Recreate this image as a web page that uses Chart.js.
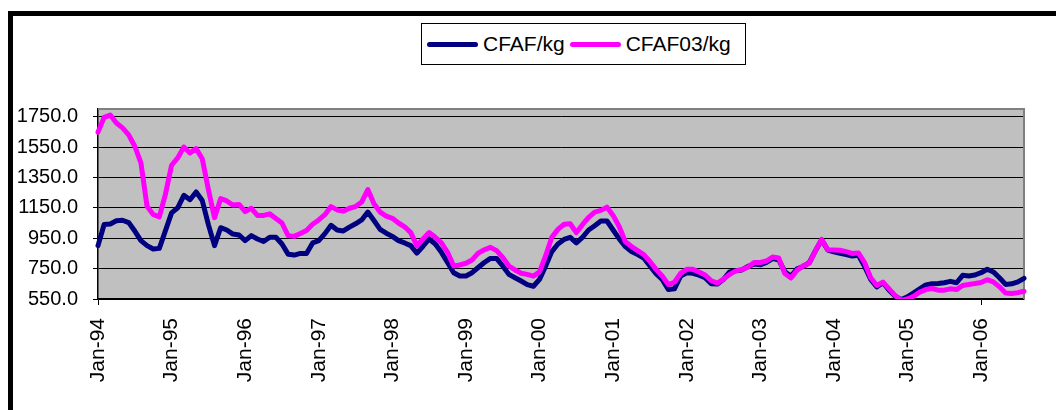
<!DOCTYPE html>
<html><head><meta charset="utf-8">
<script src="https://cdn.jsdelivr.net/npm/chart.js@4.4.1/dist/chart.umd.min.js"></script>
<style>
html,body{margin:0;padding:0;background:#fff;width:1056px;height:410px;overflow:hidden;}
#wrap{position:relative;width:1056px;height:410px;}
#frame{position:absolute;left:8px;top:11px;width:1060px;height:410px;border-top:5px solid #000;border-left:5px solid #000;}
#c{position:absolute;left:0;top:0;}
#legend{position:absolute;left:421px;top:23px;width:325px;height:42px;border:1px solid #000;background:#fff;
 font-family:"Liberation Sans",Arial,sans-serif;font-size:21px;color:#000;display:flex;align-items:center;box-sizing:border-box;padding-left:5px;}
#legend .sw{display:inline-block;width:51px;height:5px;border-radius:3px;margin-right:5px;}
#legend .tx{margin-right:5px;}
</style></head>
<body><div id="wrap"><div id="frame"></div><canvas id="c" width="1056" height="410"></canvas><div id="legend"></div></div>
<script>
const MONTHS=['Jan','Feb','Mar','Apr','May','Jun','Jul','Aug','Sep','Oct','Nov','Dec'];
const START_YEAR=1994, N_MONTHS=152;
const categories=[];
for(let i=0;i<N_MONTHS;i++){const y=(START_YEAR+Math.floor(i/12))%100;categories.push(MONTHS[i%12]+'-'+String(y).padStart(2,'0'));}
const yTicks=[550,750,950,1150,1350,1550,1750];
const seriesNames=['CFAF/kg','CFAF03/kg'];
const cfafKg=[901,1040,1044,1065,1068,1053,997,934,901,879,883,1000,1117,1150,1232,1203,1254,1198,1039,901,1019,1004,977,971,
934,967,945,928,956,956,912,845,839,850,850,919,934,980,1035,1004,998,1023,1045,1070,1122,1066,1008,983,
962,934,919,901,852,897,945,912,857,790,723,701,701,723,757,790,817,817,767,712,690,668,645,634,
679,768,862,912,942,956,919,956,1004,1032,1063,1063,1004,945,895,862,842,820,768,717,679,612,617,701,
723,719,707,690,650,648,679,728,736,741,765,780,775,790,816,808,730,700,748,764,790,868,940,872,
860,850,843,833,837,765,679,630,657,608,568,546,564,590,617,643,650,652,657,666,657,706,701,708,
723,746,728,690,646,650,663,686];
const cfaf03Kg=[1648,1745,1760,1708,1676,1630,1555,1445,1160,1106,1090,1240,1430,1478,1550,1510,1540,1473,1270,1085,1210,1195,1168,1172,
1125,1147,1100,1100,1110,1080,1050,967,962,981,1000,1042,1070,1105,1158,1136,1128,1147,1158,1188,1270,1177,1122,1095,
1081,1050,1025,987,901,945,987,956,919,857,767,774,785,807,852,874,890,868,824,767,741,719,712,701,
728,835,956,1008,1042,1045,987,1039,1087,1122,1133,1154,1100,1025,927,895,868,842,797,745,701,645,660,719,
745,745,728,708,670,655,680,712,735,743,760,790,790,800,826,820,718,688,740,768,786,868,942,874,
873,871,862,850,853,790,690,639,661,617,572,540,550,568,595,612,619,608,608,617,612,639,646,652,
659,677,663,630,590,586,592,601];
const colors=['#000080','#FF00FF'];

const plotBg={id:'plotBg',
 beforeDraw(c){const {ctx,chartArea:a}=c;ctx.save();ctx.fillStyle='#C0C0C0';ctx.fillRect(a.left,a.top,a.right-a.left,a.bottom-a.top);ctx.restore();},
 beforeDatasetsDraw(c){const {ctx,chartArea:a}=c;ctx.save();ctx.strokeStyle='#808080';ctx.lineWidth=2;ctx.beginPath();
  ctx.moveTo(a.left,a.top);ctx.lineTo(a.right,a.top);ctx.lineTo(a.right,a.bottom);ctx.stroke();ctx.restore();}
};
const FONT="'Liberation Sans', Arial, sans-serif";
new Chart(document.getElementById('c'),{
 type:'line',
 data:{labels:categories,datasets:[
  {label:seriesNames[0],data:cfafKg,borderColor:colors[0],backgroundColor:colors[0],borderWidth:5,pointRadius:0,tension:0,order:1,borderJoinStyle:'round',borderCapStyle:'round',clip:{left:5,top:5,right:5,bottom:0}},
  {label:seriesNames[1],data:cfaf03Kg,borderColor:colors[1],backgroundColor:colors[1],borderWidth:5,pointRadius:0,tension:0,order:0,borderJoinStyle:'round',borderCapStyle:'round',clip:{left:5,top:5,right:5,bottom:0}}
 ]},
 options:{responsive:false,animation:false,devicePixelRatio:1,
  layout:{padding:{left:0,top:109,right:32,bottom:0}},
  plugins:{legend:{display:false},tooltip:{enabled:false}},
  scales:{
   x:{type:'category',offset:false,afterFit:s=>{s.height=111;},
    ticks:{autoSkip:false,maxRotation:90,minRotation:90,color:'#000',font:{family:FONT,size:21},padding:13,
     callback:(v,i)=>categories[i].startsWith('Jan')?categories[i]:null},
    grid:{drawOnChartArea:false,drawTicks:true,tickLength:6,color:ctx=>(categories[ctx.index]||'').startsWith('Jan')?'#000':'rgba(0,0,0,0)'},
    border:{color:'#000',width:1.5}},
   y:{min:550,max:1800,afterBuildTicks:s=>{s.ticks=yTicks.map(v=>({value:v}));},afterFit:s=>{s.width=98;},
    ticks:{color:'#000',font:{family:FONT,size:20},padding:15,callback:v=>Number(v).toFixed(1)},
    grid:{color:'#000',lineWidth:1,drawTicks:true,tickLength:5},
    border:{color:'#000',width:1.5}}
  }},
 plugins:[plotBg]
});
const lg=document.getElementById('legend');
seriesNames.forEach((n,i)=>{const sw=document.createElement('span');sw.className='sw';sw.style.background=colors[i];lg.appendChild(sw);
 const t=document.createElement('span');t.className='tx';t.textContent=n;lg.appendChild(t);});
</script></body></html>
